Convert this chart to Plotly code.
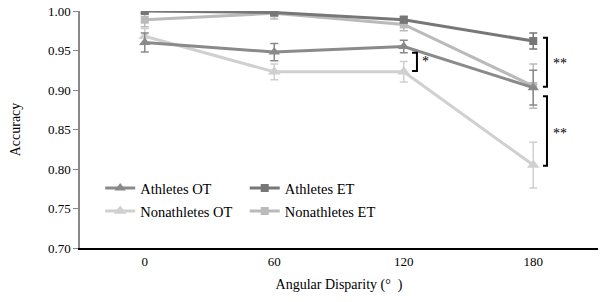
import plotly.graph_objects as go

categories = ["0", "60", "120", "180"]

athletes_ot = [0.960, 0.948, 0.955, 0.903]
athletes_ot_err = [0.012, 0.011, 0.008, 0.022]
athletes_et = [1.000, 0.998, 0.989, 0.962]
athletes_et_err = [0.003, 0.003, 0.004, 0.010]
nonathletes_ot = [0.968, 0.923, 0.923, 0.805]
nonathletes_ot_err = [0.010, 0.010, 0.013, 0.029]
nonathletes_et = [0.989, 0.997, 0.983, 0.905]
nonathletes_et_err = [0.009, 0.007, 0.008, 0.028]

FONT = "Liberation Serif"

fig = go.Figure()

def add(name, y, err, color, symbol, size, legend, rank):
    fig.add_trace(go.Scatter(
        x=categories, y=y, name=name, mode="lines+markers",
        line=dict(color=color, width=3),
        marker=dict(symbol=symbol, size=size, color=color),
        error_y=dict(type="data", array=err, color=color, thickness=1.5, width=4),
        legend=legend, legendgroup=name, legendrank=rank,
    ))

add("Nonathletes OT", nonathletes_ot, nonathletes_ot_err, "#d0d0d0", "triangle-up", 11, "legend", 2)
add("Nonathletes ET", nonathletes_et, nonathletes_et_err, "#bababa", "square", 8, "legend2", 2)
add("Athletes OT", athletes_ot, athletes_ot_err, "#8a8a8a", "triangle-up", 10, "legend", 1)
add("Athletes ET", athletes_et, athletes_et_err, "#777777", "square", 8, "legend2", 1)

# significance brackets
brackets = [
    (2.102, 2.064, 0.947, 0.924, "*", 2.17, 0.936),
    (3.106, 3.075, 0.966, 0.904, "**", 3.21, 0.934),
    (3.106, 3.075, 0.892, 0.804, "**", 3.21, 0.845),
]
for xv, xl, y0, y1, txt, tx, ty in brackets:
    fig.add_shape(type="path",
                  path=f"M {xl} {y0} L {xv} {y0} L {xv} {y1} L {xl} {y1}",
                  xref="x", yref="y", line=dict(color="black", width=2))
    fig.add_annotation(x=tx, y=ty, xref="x", yref="y", text=txt, showarrow=False,
                       font=dict(family=FONT, size=14, color="black"))

legend_style = dict(yanchor="top", xanchor="left", bgcolor="rgba(0,0,0,0)",
                    font=dict(family=FONT, size=14.5, color="black"), tracegroupgap=1,
                    traceorder="grouped", itemwidth=30)
fig.update_layout(
    width=600, height=302,
    margin=dict(l=80, r=2, t=11, b=54),
    paper_bgcolor="white", plot_bgcolor="white",
    font=dict(family=FONT, size=13, color="black"),
    legend=dict(x=0.039, y=0.32, **legend_style),
    legend2=dict(x=0.318, y=0.32, **legend_style),
    showlegend=True,
)
fig.update_xaxes(type="category", range=[-0.5, 3.5], showgrid=False,
                 showline=True, linecolor="black", linewidth=2, ticks="",
                 title=dict(text="Angular Disparity (°  )", font=dict(family=FONT, size=14), standoff=12),
                 tickfont=dict(family=FONT, size=13))
fig.update_yaxes(range=[0.70, 1.00], showgrid=False, zeroline=False,
                 showline=True, linecolor="#888888", linewidth=1.5,
                 ticks="outside", ticklen=5, tickcolor="#888888",
                 tickvals=[0.70, 0.75, 0.80, 0.85, 0.90, 0.95, 1.00],
                 tickformat=".2f",
                 title=dict(text="Accuracy", font=dict(family=FONT, size=14), standoff=24),
                 tickfont=dict(family=FONT, size=13))

fig.write_html("out.html", config={"displayModeBar": False},
               post_script="document.body.style.margin='0px';")
